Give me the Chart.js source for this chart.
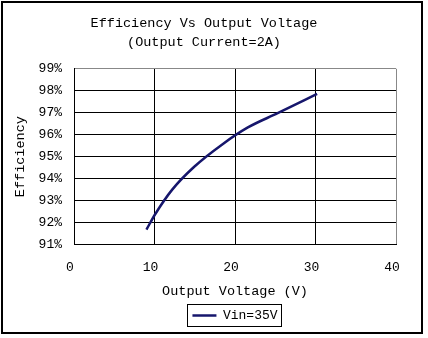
<!DOCTYPE html>
<html>
<head>
<meta charset="utf-8">
<script src="https://cdn.jsdelivr.net/npm/chart.js@4.4.0/dist/chart.umd.min.js"></script>
<style>
  html, body { margin: 0; padding: 0; background: #fff; }
  #wrap { width: 428px; height: 338px; position: relative; }
</style>
</head>
<body>
<div id="wrap"><canvas id="c" width="428" height="338"></canvas></div>
<script>
const titleLines = ['Efficiency Vs Output Voltage', '(Output Current=2A)'];
const xTitle = 'Output Voltage (V)';
const yTitle = 'Efficiency';
const seriesName = 'Vin=35V';
const outputVoltage = [9.0, 10.1, 12.2, 14.9, 18.5, 21.6, 25.3, 30.2];
const efficiency = [91.68, 92.39, 93.5, 94.53, 95.58, 96.33, 96.98, 97.86];
const xTicks = [0, 10, 20, 30, 40];
const yTicks = [91, 92, 93, 94, 95, 96, 97, 98, 99];

const FONT = '"Liberation Mono", "DejaVu Sans Mono", monospace';

const frame = {
  id: 'frame',
  afterLayout(chart) {
    const lg = chart.legend;
    if (lg && chart.chartArea) {
      lg.left = chart.chartArea.left;
      lg.right = chart.chartArea.right;
      lg.width = lg.right - lg.left;
    }
  },
  afterDraw(chart) {
    const ctx = chart.ctx;
    ctx.save();
    ctx.strokeStyle = '#000';
    ctx.lineWidth = 2;
    ctx.strokeRect(2, 2, 420, 331);
    const lg = chart.legend;
    if (lg && lg.legendHitBoxes && lg.legendHitBoxes.length) {
      const hb = lg.legendHitBoxes[0];
      ctx.lineWidth = 1;
      ctx.strokeRect(Math.round(hb.left) - 4.5, Math.round(hb.top) - 4.5, Math.round(hb.width) + 9, Math.round(hb.height) + 9);
    }
    ctx.restore();
  }
};

new Chart(document.getElementById('c'), {
  type: 'line',
  data: {
    datasets: [{
      label: seriesName,
      data: outputVoltage.map((v, i) => ({ x: v, y: efficiency[i] })),
      borderColor: '#16166c',
      backgroundColor: '#16166c',
      borderWidth: 2.5,
      pointRadius: 0,
      cubicInterpolationMode: 'monotone'
    }]
  },
  plugins: [frame],
  options: {
    responsive: false,
    animation: false,
    devicePixelRatio: 1,
    layout: { padding: { left: 12, right: 32, top: 4, bottom: 6 } },
    plugins: {
      title: {
        display: true,
        text: titleLines,
        color: '#000',
        font: { family: FONT, size: 13.5, weight: 'normal', lineHeight: 1.4 },
        padding: { top: 10, bottom: 17 }
      },
      legend: {
        display: true,
        position: 'bottom',
        labels: {
          color: '#000',
          font: { family: FONT, size: 13 },
          usePointStyle: true,
          pointStyle: 'line',
          pointStyleWidth: 24,
          boxHeight: 2,
          padding: 6
        }
      },
      tooltip: { enabled: false }
    },
    scales: {
      x: {
        type: 'linear',
        min: 0, max: 40,
        afterBuildTicks: s => { s.ticks = xTicks.map(v => ({ value: v })); },
        ticks: { color: '#000', font: { family: FONT, size: 13, lineHeight: 1 }, padding: 17, labelOffset: -4 },
        grid: {
          drawTicks: false,
          color: c => (c.tick && c.tick.value === 40) ? '#888' : '#000',
          lineWidth: 1
        },
        border: { display: true, color: '#000', width: 1 },
        title: { display: true, text: xTitle, color: '#000', font: { family: FONT, size: 13.5, lineHeight: 1 }, padding: { top: -7, bottom: 5 } }
      },
      y: {
        type: 'linear',
        min: 91, max: 99,
        afterBuildTicks: s => { s.ticks = yTicks.map(v => ({ value: v })); },
        afterFit: s => { s.width = 62; },
        ticks: { color: '#000', font: { family: FONT, size: 13 }, padding: 12, callback: v => v + '%' },
        grid: {
          drawTicks: false,
          color: c => (c.tick && c.tick.value === 99) ? '#888' : '#000',
          lineWidth: 1
        },
        border: { display: true, color: '#000', width: 1 },
        title: { display: true, text: yTitle, color: '#000', font: { family: FONT, size: 13.5 }, padding: { top: 0, bottom: 6 } }
      }
    }
  }
});
</script>
</body>
</html>
